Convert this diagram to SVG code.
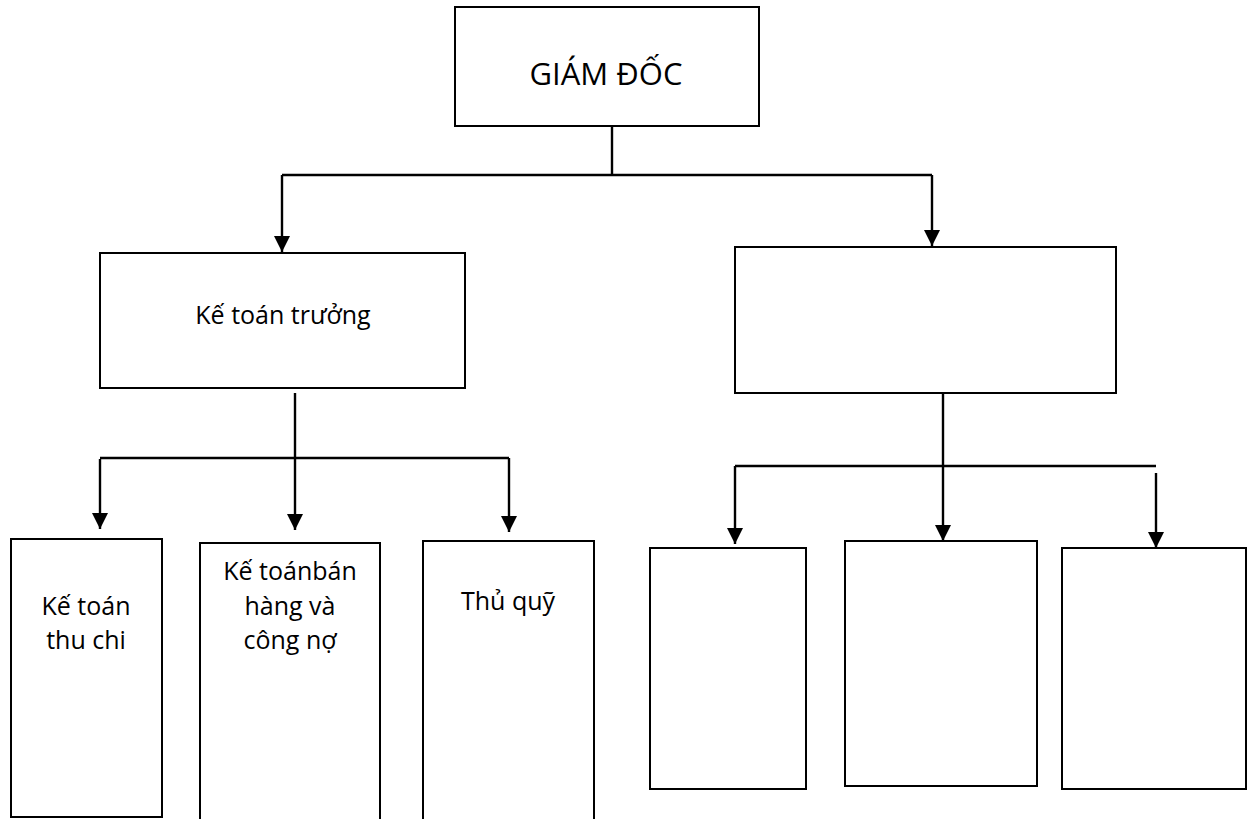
<svg xmlns="http://www.w3.org/2000/svg" width="1250" height="819" viewBox="0 0 1250 819">
  <style>
    .box { fill: #ffffff; stroke: #000000; stroke-width: 2; }
    .link { fill: none; stroke: #000000; stroke-width: 2.4; }
    .arrow { fill: none; stroke: #000000; stroke-width: 2.4; marker-end: url(#head); }
    .lbl { font-family: "Open Sans", "Liberation Sans", sans-serif; font-size: 25px; fill: #000000; text-anchor: middle; }
    .title { font-size: 31px; }
  </style>
  <defs>
    <marker id="head" viewBox="0 0 10 10" refX="10" refY="5" markerWidth="16" markerHeight="16" markerUnits="userSpaceOnUse" orient="auto">
      <path d="M0,0 L10,5 L0,10 Z" fill="#000000"/>
    </marker>
  </defs>
  <rect width="1250" height="819" fill="#ffffff"/>

  <!-- connectors -->
  <g id="connectors">
    <!-- director to the two departments -->
    <path class="link" d="M612,126 V175"/>
    <path class="link" d="M282,175 H932"/>
    <path class="arrow" d="M282,175 V252"/>
    <path class="arrow" d="M932,175 V246"/>
    <!-- chief accountant to staff -->
    <path class="arrow" d="M295,393 V530"/>
    <path class="link" d="M100,458 H509"/>
    <path class="arrow" d="M100,459 V529"/>
    <path class="arrow" d="M509,458 V532"/>
    <!-- right department to its three units -->
    <path class="arrow" d="M943,393 V541"/>
    <path class="link" d="M735,466 H1156"/>
    <path class="arrow" d="M735,466 V544"/>
    <path class="arrow" d="M1156,473 V548"/>
  </g>

  <g id="giam-doc">
    <rect class="box" x="455" y="7" width="304" height="119"/>
    <text class="lbl title" x="606" y="85">GIÁM ĐỐC</text>
  </g>

  <g id="ke-toan-truong">
    <rect class="box" x="100" y="253" width="365" height="135"/>
    <text class="lbl" x="283" y="324">Kế toán trưởng</text>
  </g>

  <g id="phong-ben-phai">
    <rect class="box" x="735" y="247" width="381" height="146" stroke-width="1.5"/>
  </g>

  <g id="ke-toan-thu-chi">
    <rect class="box" x="11" y="539" width="151" height="278"/>
    <text class="lbl" x="86" y="615">Kế toán</text>
    <text class="lbl" x="86" y="649">thu chi</text>
  </g>

  <g id="ke-toan-ban-hang">
    <rect class="box" x="200" y="543" width="180" height="290"/>
    <text class="lbl" x="290" y="580">Kế toánbán</text>
    <text class="lbl" x="290" y="615">hàng và</text>
    <text class="lbl" x="290" y="649">công nợ</text>
  </g>

  <g id="thu-quy">
    <rect class="box" x="423" y="541" width="171" height="290"/>
    <text class="lbl" x="508" y="610">Thủ quỹ</text>
  </g>

  <g id="don-vi-1">
    <rect class="box" x="650" y="548" width="156" height="241"/>
  </g>

  <g id="don-vi-2">
    <rect class="box" x="845" y="541" width="192" height="245"/>
  </g>

  <g id="don-vi-3">
    <rect class="box" x="1062" y="548" width="184" height="241"/>
  </g>
</svg>
